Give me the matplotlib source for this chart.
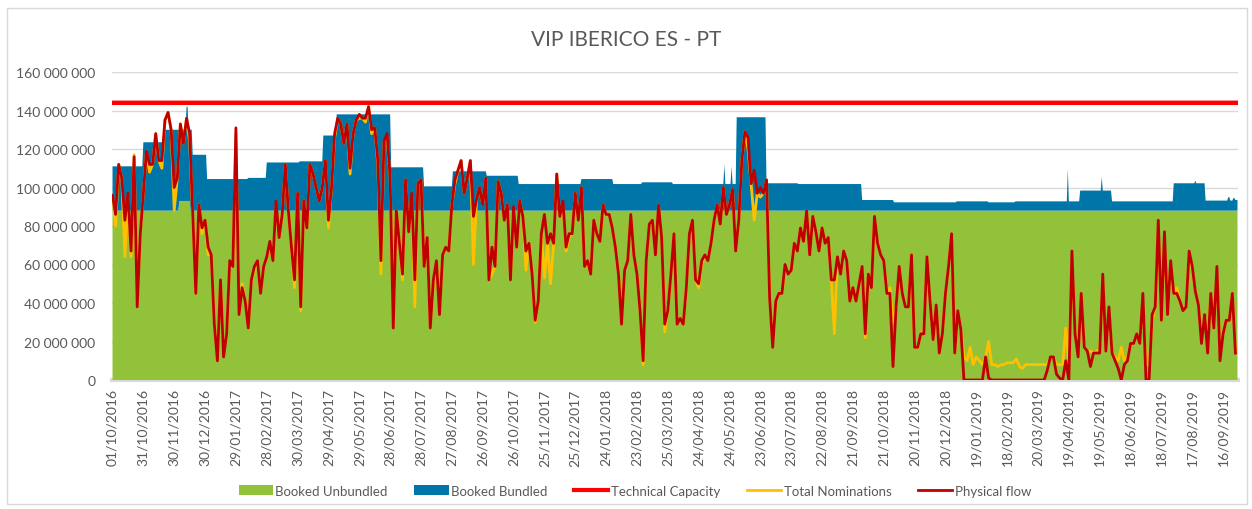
import matplotlib.pyplot as plt
import matplotlib.dates as mdates
from matplotlib.patches import Patch, Rectangle
from matplotlib.lines import Line2D
from matplotlib.ticker import FuncFormatter
import numpy as np
import pandas as pd

plt.rcParams['font.family'] = ['Lato', 'DejaVu Sans']

start = '2016-10-01'
n_days = 1095

# booked capacity in millions, step levels beginning at a day offset from start
unbundled_start = [0, 65, 76]
unbundled_level = [88, 93, 88]

booked_start = [0, 30, 51, 72, 74, 78, 92, 132, 150, 182, 205, 218, 271, 303, 331,
                364, 395, 456, 487, 515, 545, 595, 596, 602, 603, 607, 636, 667, 729,
                760, 821, 852, 878, 929, 930, 941, 962, 963, 972, 1032, 1053, 1054,
                1063, 1085, 1087, 1090, 1092]
booked_total = [111, 123.5, 130, 142, 130, 117, 104.4, 105, 113, 113.6, 127, 138, 110.5,
                100.6, 108.4, 106.1, 101.8, 104.4, 101.8, 102.7, 101.8, 112, 101.8, 111,
                101.8, 136.5, 102.2, 101.8, 93.5, 92.3, 92.8, 92.3, 92.8, 109.6, 92.8,
                98.4, 105.6, 98.4, 92.8, 102.2, 103.5, 102.2, 93.2, 95, 93.2, 94.5, 93.5]

technical_capacity = 144

# physical flow and nominations, one value every 3 days (millions)
flow = [96, 86, 112, 105, 83, 97, 67, 116, 38, 76,
        97, 119, 112, 112, 128, 114, 114, 135, 139, 130,
        100, 105, 133, 123, 136, 128, 86, 45, 91, 79,
        83, 69, 65, 29, 10, 52, 12, 24, 62, 59,
        131, 34, 48, 41, 27, 52, 59, 62, 45, 59,
        64, 72, 62, 93, 74, 86, 112, 88, 69, 52,
        97, 38, 93, 79, 112, 107, 100, 93, 100, 114,
        83, 100, 128, 136, 133,
        123, 133, 110, 128, 135, 138, 136, 136, 142, 130,
        131, 114, 62, 124, 128, 105, 27, 88, 71, 55,
        104, 77, 97, 52, 102, 104, 59, 74, 27, 52,
        62, 34, 65, 69, 67, 91, 104, 109, 114, 97,
        105, 114, 85, 94, 100, 91, 105, 52, 69, 59,
        103, 97, 83, 91, 52, 90, 69, 93, 85, 67,
        71, 55, 31, 41, 76, 86, 71, 76, 71, 107,
        85, 93,
        69, 76, 76, 97, 83, 100, 59, 62, 55, 83,
        76, 72, 91, 86, 86, 79, 69, 55, 29, 57,
        62, 86, 65, 55, 36, 10, 62, 81, 83, 65,
        91, 74, 29, 36, 55, 76, 29, 32, 29, 48,
        76, 83, 52, 50, 62, 65, 62, 71, 83, 91,
        81, 100, 86, 91, 99, 67, 83, 114, 129, 126,
        102, 109, 97, 100, 97, 104, 43, 17, 41, 45,
        45, 60, 55,
        57, 71, 67, 79, 72, 88, 65, 85, 77, 67,
        79, 71, 74, 52, 52, 64, 55, 67, 62, 41,
        48, 41, 50, 59, 24, 55, 48, 85, 71, 65,
        62, 45, 45, 7, 38, 59, 45, 38, 38, 65,
        17, 17, 24, 24, 64, 41, 21, 39, 14, 24,
        45, 59, 76, 14, 36, 26, 0, 0, 0, 0,
        0, 0, 0, 12, 1, 0, 0, 0, 0, 0,
        0, 0, 0,
        0, 0, 0, 0, 0, 0, 0, 0, 0, 0,
        5, 12, 12, 3, 1, 0, 10, 0, 67, 24,
        12, 45, 17, 15, 7, 14, 14, 14, 55, 15,
        38, 14, 10, 6, 0, 8, 10, 19, 19, 24,
        19, 45, 0, 0, 34, 38, 83, 31, 77, 34,
        62, 45, 45, 41, 36, 38, 67, 59, 46, 39,
        19, 34, 14, 45, 27, 59, 10, 24, 31, 31,
        45, 14]

nominations = [96, 80, 112, 105, 64, 95, 64, 117, 40, 76,
               97, 119, 108, 112, 128, 114, 110, 135, 139, 130,
               88, 105, 133, 123, 136, 124, 84, 45, 91, 76,
               83, 65, 65, 30, 12, 50, 14, 24, 60, 59,
               128, 34, 50, 41, 27, 52, 57, 62, 45, 59,
               64, 70, 62, 90, 74, 86, 112, 88, 69, 48,
               97, 36, 93, 79, 112, 107, 100, 93, 100, 114,
               79, 100, 126, 136, 133,
               123, 133, 107, 128, 135, 136, 136, 134, 142, 128,
               131, 112, 55, 124, 126, 105, 29, 88, 71, 52,
               104, 77, 95, 38, 102, 104, 59, 72, 27, 50,
               62, 36, 65, 69, 67, 91, 102, 109, 114, 97,
               105, 114, 60, 94, 100, 91, 105, 52, 55, 59,
               103, 97, 83, 91, 52, 88, 69, 93, 85, 57,
               71, 55, 30, 41, 76, 53, 71, 50, 71, 107,
               85, 90,
               67, 74, 76, 97, 83, 100, 59, 60, 55, 83,
               76, 72, 91, 86, 86, 79, 69, 55, 29, 57,
               62, 86, 65, 55, 36, 8, 62, 81, 83, 65,
               91, 74, 25, 36, 55, 76, 29, 32, 29, 48,
               76, 83, 52, 48, 60, 65, 62, 71, 83, 91,
               81, 100, 86, 91, 99, 67, 83, 114, 129, 120,
               102, 83, 97, 95, 97, 104, 45, 19, 41, 45,
               45, 58, 55,
               57, 71, 67, 79, 72, 88, 65, 85, 77, 67,
               79, 71, 74, 52, 24, 64, 55, 67, 62, 41,
               48, 41, 50, 59, 22, 55, 48, 85, 71, 65,
               62, 45, 48, 30, 38, 59, 45, 38, 38, 65,
               17, 17, 24, 26, 64, 41, 21, 39, 14, 24,
               45, 59, 76, 14, 36, 26, 12, 10, 17, 8,
               12, 10, 8, 12, 20, 8, 8, 7, 8, 8,
               9, 9, 9,
               11, 7, 6, 8, 8, 8, 8, 8, 8, 8,
               8, 12, 12, 8, 8, 8, 27, 10, 60, 24,
               14, 45, 17, 15, 15, 14, 15, 16, 52, 15,
               35, 14, 12, 10, 17, 10, 12, 19, 19, 24,
               19, 40, 8, 8, 30, 38, 80, 31, 70, 34,
               60, 45, 48, 41, 36, 38, 67, 57, 46, 39,
               22, 34, 18, 45, 27, 55, 14, 24, 31, 31,
               45, 16]

c_green = '#92C13A'
c_blue = '#0076A8'
c_red = '#FF0000'
c_yellow = '#FFC000'
c_dark = '#C00000'
c_text = '#595959'


def steps(starts, levels):
    lens = np.diff(starts + [n_days])
    return np.repeat(levels, lens)


days = pd.date_range(start, periods=n_days, freq='D')
unbundled = steps(unbundled_start, unbundled_level) * 1e6
bundled = steps(booked_start, booked_total) * 1e6 - unbundled
flow_days = pd.date_range(start, periods=len(flow), freq='3D')
nom_days = pd.date_range(start, periods=len(nominations), freq='3D')

fig = plt.figure(figsize=(12.52, 5.10), dpi=100)
ax = fig.add_axes([112 / 1252, 1 - 381 / 510, 1126 / 1252, 308 / 510])

ax.stackplot(days, unbundled, bundled, colors=[c_green, c_blue], lw=0)
ax.plot(days, np.full(n_days, technical_capacity * 1e6), color=c_red, lw=3.2)
ax.plot(nom_days, np.array(nominations) * 1e6, color=c_yellow, lw=2)
ax.plot(flow_days, np.array(flow) * 1e6, color=c_dark, lw=2)

ax.set_ylim(0, 160e6)
ax.set_yticks(np.arange(0, 160e6 + 1, 20e6))
ax.yaxis.set_major_formatter(FuncFormatter(lambda v, p: f'{int(v):,}'.replace(',', ' ')))
ax.set_xlim(days[0] - pd.Timedelta(hours=12), days[-1] + pd.Timedelta(hours=12))
ax.set_xticks(pd.date_range(start, periods=37, freq='30D'))
ax.xaxis.set_major_formatter(mdates.DateFormatter('%d/%m/%Y'))
ax.tick_params(axis='x', rotation=90, length=0, labelsize=10, labelcolor=c_text, pad=6)
ax.tick_params(axis='y', length=0, labelsize=10, labelcolor=c_text, pad=12)
ax.yaxis.grid(True, color='#D9D9D9', lw=1)
ax.set_axisbelow(True)
for s in ['top', 'left', 'right']:
    ax.spines[s].set_visible(False)
ax.spines['bottom'].set_color('#D9D9D9')
ax.spines['bottom'].set_linewidth(3)
ax.spines['bottom'].set_zorder(0.5)

fig.text(0.5, 1 - 40 / 510, 'VIP IBERICO ES - PT', ha='center', va='center',
         fontsize=15, color=c_text)

handles = [Patch(fc=c_green, ec='none'), Patch(fc=c_blue, ec='none'),
           Line2D([], [], color=c_red, lw=3), Line2D([], [], color=c_yellow, lw=2),
           Line2D([], [], color=c_dark, lw=2)]
labels = ['Booked Unbundled', 'Booked Bundled', 'Technical Capacity',
          'Total Nominations', 'Physical flow']
leg = fig.legend(handles, labels, loc='center', bbox_to_anchor=(0.507, 1 - 492 / 510),
                 ncol=5, frameon=False, fontsize=9.5, handlelength=2.6, handleheight=0.8,
                 columnspacing=2.0, handletextpad=0.2)
for t in leg.get_texts():
    t.set_color(c_text)

fig.add_artist(Rectangle((7 / 1252, 1 - 505 / 510), 1240 / 1252, 496 / 510,
                         transform=fig.transFigure, fill=False, ec='#D9D9D9', lw=1))

fig.savefig('out.png', dpi=100)
